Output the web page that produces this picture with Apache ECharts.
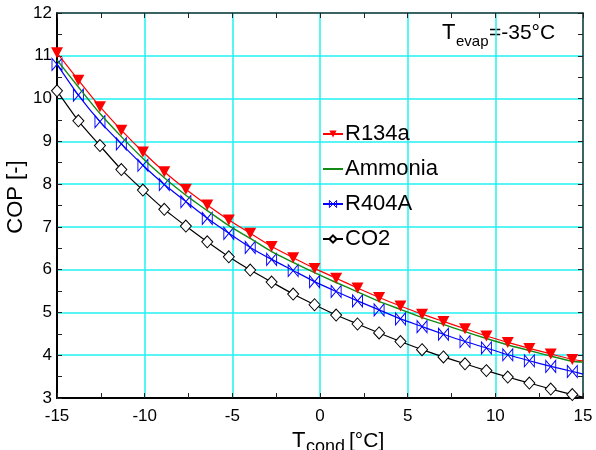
<!DOCTYPE html>
<html>
<head>
<meta charset="utf-8">
<script src="https://cdn.jsdelivr.net/npm/echarts@6/dist/echarts.min.js"></script>
<style>
html,body{margin:0;padding:0;background:#fff;}
#chart{width:596px;height:450px;}
</style>
</head>
<body>
<div id="chart"></div>
<script>
// Condensing temperature positions of the markers (°C); last entry is the line end at 15
var tCond = [-15, -13.78, -12.55, -11.33, -10.10, -8.88, -7.65, -6.43, -5.20, -3.98, -2.76, -1.53, -0.31,
             0.92, 2.14, 3.37, 4.59, 5.82, 7.04, 8.27, 9.49, 10.71, 11.94, 13.16, 14.39, 15];
var copR134a   = [11.07, 10.43, 9.81, 9.26, 8.75, 8.29, 7.88, 7.51, 7.16, 6.85, 6.54, 6.28, 6.03,
                  5.80, 5.57, 5.35, 5.15, 4.96, 4.79, 4.62, 4.45, 4.30, 4.16, 4.03, 3.90, 3.87];
var copAmmonia = [10.90, 10.27, 9.65, 9.11, 8.60, 8.15, 7.74, 7.38, 7.03, 6.73, 6.42, 6.17, 5.93,
                  5.70, 5.48, 5.26, 5.07, 4.88, 4.72, 4.55, 4.39, 4.24, 4.11, 3.98, 3.86, 3.84];
var copR404A   = [10.80, 10.08, 9.46, 8.94, 8.44, 7.99, 7.59, 7.20, 6.85, 6.52, 6.24, 5.98, 5.72,
                  5.49, 5.27, 5.06, 4.85, 4.67, 4.49, 4.32, 4.17, 4.01, 3.87, 3.74, 3.62, 3.56];
var copCO2     = [10.18, 9.48, 8.90, 8.34, 7.86, 7.41, 7.02, 6.65, 6.30, 5.99, 5.71, 5.43, 5.18,
                  4.94, 4.73, 4.52, 4.32, 4.13, 3.96, 3.80, 3.64, 3.49, 3.35, 3.21, 3.08, 3.02];
var seriesNames = ['R134a', 'Ammonia', 'R404A', 'CO2'];
var xTicks = {min: -15, max: 15, interval: 5};
var yTicks = {min: 3, max: 12, interval: 1};

var FONT = '"Liberation Sans", Arial, sans-serif';

function pts(ys) {
  return tCond.map(function (x, i) {
    if (i === tCond.length - 1) return {value: [x, ys[i]], symbol: 'none'};
    return [x, ys[i]];
  });
}

var chart = echarts.init(document.getElementById('chart'), null, {renderer: 'canvas'});

var gridColor = '#22f2f2';
function axisCommon(extra) {
  return Object.assign({
    type: 'value',
    axisLine: {show: true, onZero: false, lineStyle: {color: '#000', width: 2}},
    axisTick: {show: true, inside: true, length: 5, lineStyle: {color: '#222', width: 1}},
    minorTick: {show: true, splitNumber: 2, length: 5, lineStyle: {color: '#222', width: 1}},
    axisLabel: {color: '#000', fontSize: 17, fontFamily: FONT},
    splitLine: {show: true, lineStyle: {color: gridColor, width: 1.5}},
    minorSplitLine: {show: false}
  }, extra);
}

var option = {
  animation: false,
  backgroundColor: '#fff',
  grid: {left: 57, right: 13, top: 13, bottom: 52, containLabel: false},
  xAxis: [
    axisCommon({min: xTicks.min, max: xTicks.max, interval: xTicks.interval, position: 'bottom',
      axisLabel: {color: '#000', fontSize: 17, fontFamily: FONT, margin: 10}}),
    axisCommon({min: xTicks.min, max: xTicks.max, interval: xTicks.interval, position: 'top',
      axisLine: {show: true, onZero: false, lineStyle: {color: '#333', width: 1.5}},
      axisLabel: {show: false}, splitLine: {show: false}})
  ],
  yAxis: [
    axisCommon({min: yTicks.min, max: yTicks.max, interval: yTicks.interval, position: 'left',
      axisLabel: {color: '#000', fontSize: 17, fontFamily: FONT, margin: 5}}),
    axisCommon({min: yTicks.min, max: yTicks.max, interval: yTicks.interval, position: 'right',
      axisLine: {show: true, onZero: false, lineStyle: {color: '#333', width: 1.5}},
      axisLabel: {show: false}, splitLine: {show: false}})
  ],
  legend: {
    orient: 'vertical',
    left: 322,
    top: 123,
    padding: 0,
    itemGap: 13,
    itemWidth: 20,
    itemHeight: 9,
    data: [
      {name: seriesNames[0]},
      {name: seriesNames[1], itemStyle: {opacity: 0}},
      {name: seriesNames[2], itemStyle: {color: 'rgba(255,255,255,0)', borderColor: '#0000ff', borderWidth: 1}},
      {name: seriesNames[3]}
    ],
    textStyle: {color: '#000', fontSize: 22, fontFamily: FONT, padding: [0, 0, 0, -3]}
  },
  series: [
    {
      name: seriesNames[3], type: 'line', data: pts(copCO2), smooth: 0.2, clip: false, z: 2,
      symbol: 'diamond', symbolSize: [11, 12],
      lineStyle: {color: '#000', width: 1.2},
      itemStyle: {color: '#fff', borderColor: '#000', borderWidth: 1}
    },
    {
      name: seriesNames[2], type: 'line', data: pts(copR404A), smooth: 0.2, clip: false, z: 3,
      symbol: 'path://M0,0 L10,12 L10,0 L0,12 Z', symbolSize: [10, 12],
      lineStyle: {color: '#0000ff', width: 1.2},
      itemStyle: {color: 'rgba(255,255,255,0)', borderColor: '#0000ff', borderWidth: 1}
    },
    {
      name: seriesNames[1], type: 'line', data: pts(copAmmonia), smooth: 0.2, clip: false, z: 4,
      symbol: 'none', showSymbol: false,
      lineStyle: {color: '#138a13', width: 1.4},
      itemStyle: {color: '#138a13'}
    },
    {
      name: seriesNames[0], type: 'line', data: pts(copR134a), smooth: 0.2, clip: false, z: 5,
      symbol: 'path://M0,0 L10,0 L5,9 Z', symbolSize: [12, 11],
      lineStyle: {color: '#ff0000', width: 1.2},
      itemStyle: {color: '#ff0000'}
    }
  ],
  graphic: [
    {type: 'text', x: 16, y: 197, rotation: Math.PI / 2,
      style: {text: 'COP [-]', font: '22px ' + FONT, fill: '#000', align: 'center', verticalAlign: 'middle'}},
    {type: 'text', x: 292, y: 441,
      style: {text: 'T', font: '22px ' + FONT, fill: '#000', align: 'left', verticalAlign: 'middle'}},
    {type: 'text', x: 306, y: 447,
      style: {text: 'cond', font: '18px ' + FONT, fill: '#000', align: 'left', verticalAlign: 'middle'}},
    {type: 'text', x: 349, y: 441,
      style: {text: '[°C]', font: '21px ' + FONT, fill: '#000', align: 'left', verticalAlign: 'middle'}},
    {type: 'text', x: 442, y: 33,
      style: {text: 'T', font: '22px ' + FONT, fill: '#000', align: 'left', verticalAlign: 'middle'}},
    {type: 'text', x: 456, y: 42,
      style: {text: 'evap', font: '15px ' + FONT, fill: '#000', align: 'left', verticalAlign: 'middle'}},
    {type: 'text', x: 489, y: 33,
      style: {text: '=-35°C', font: '21px ' + FONT, fill: '#000', align: 'left', verticalAlign: 'middle'}}
  ]
};
chart.setOption(option);
</script>
</body>
</html>
